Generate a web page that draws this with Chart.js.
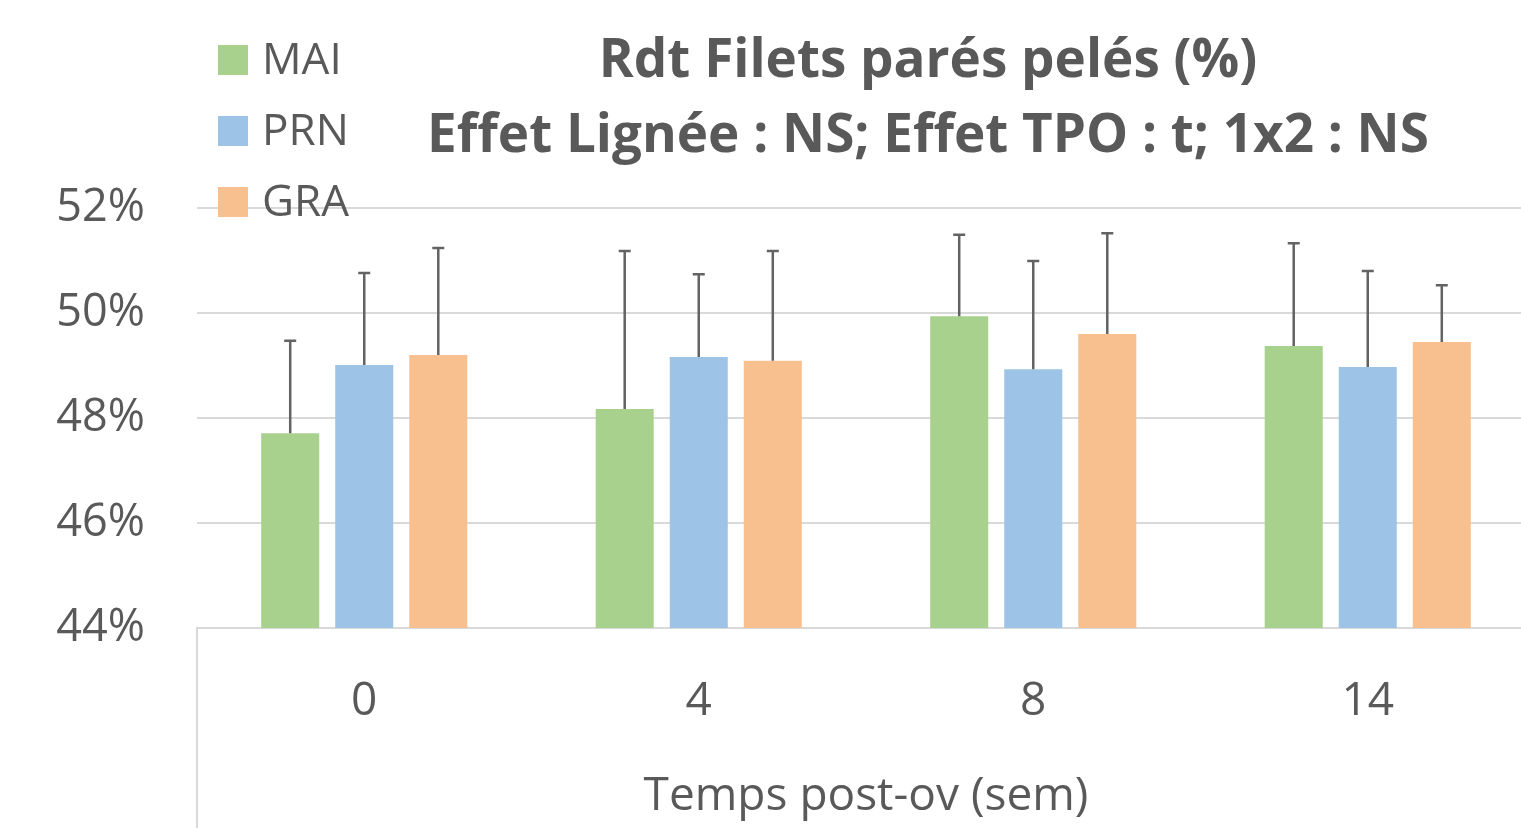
<!DOCTYPE html>
<html>
<head>
<meta charset="utf-8">
<script src="https://cdn.jsdelivr.net/npm/chart.js@4"></script>
<style>
  html, body { margin: 0; padding: 0; overflow: hidden; background: #fff; }
</style>
</head>
<body>
<canvas id="myChart" width="1560" height="828"></canvas>
<script>
const categories = ['0', '4', '8', '14'];
const seriesNames = ['MAI', 'PRN', 'GRA'];
const maiValues = [47.71, 48.17, 49.94, 49.37];
const prnValues = [49.01, 49.16, 48.93, 48.97];
const graValues = [49.20, 49.09, 49.60, 49.45];
const maiErrors = [1.76, 3.01, 1.55, 1.96];
const prnErrors = [1.75, 1.58, 2.06, 1.83];
const graErrors = [2.04, 2.09, 1.92, 1.08];
const titleLines = ['Rdt Filets parés pelés (%)', 'Effet Lignée : NS; Effet TPO : t; 1x2 : NS'];
const xTitle = 'Temps post-ov (sem)';

const textColor = '#595959';
const gridColor = '#d9d9d9';
const colors = ['#a9d18e', '#9dc3e6', '#f8c08f'];

// up-only error bars, Excel style
const errorBars = {
    id: 'errorBars',
    afterDatasetsDraw(chart) {
        const ctx = chart.ctx;
        const y = chart.scales.y;
        ctx.save();
        ctx.strokeStyle = '#636363';
        ctx.lineWidth = 2.5;
        chart.data.datasets.forEach((ds, i) => {
            chart.getDatasetMeta(i).data.forEach((bar, j) => {
                const top = y.getPixelForValue(ds.data[j] + ds.errors[j]);
                ctx.beginPath();
                ctx.moveTo(bar.x, bar.y);
                ctx.lineTo(bar.x, top);
                ctx.moveTo(bar.x - 6, top);
                ctx.lineTo(bar.x + 6, top);
                ctx.stroke();
            });
        });
        ctx.restore();
    }
};

// title + legend sit over the plot like in the Excel chart
const overlay = {
    id: 'overlay',
    afterDraw(chart) {
        const ctx = chart.ctx;
        const area = chart.chartArea;
        ctx.save();
        // left edge of the category axis area
        ctx.strokeStyle = gridColor;
        ctx.lineWidth = 2;
        ctx.beginPath();
        ctx.moveTo(area.left, area.bottom);
        ctx.lineTo(area.left, chart.height);
        ctx.stroke();

        ctx.fillStyle = textColor;
        ctx.textAlign = 'center';
        ctx.textBaseline = 'middle';
        ctx.font = 'bold 53px "Open Sans"';
        ctx.fillText(titleLines[0], 928, 62);
        ctx.fillText(titleLines[1], 928, 137);

        ctx.textAlign = 'left';
        ctx.font = '44px "Open Sans"';
        chart.data.datasets.forEach((ds, i) => {
            const cy = 60 + i * 71;
            ctx.fillStyle = ds.backgroundColor;
            ctx.fillRect(218, cy - 15, 30, 30);
            ctx.fillStyle = textColor;
            ctx.fillText(ds.label, 262, cy + 1);
        });
        ctx.restore();
    }
};

const valueSets = [maiValues, prnValues, graValues];
const errorSets = [maiErrors, prnErrors, graErrors];

new Chart(document.getElementById('myChart'), {
    type: 'bar',
    data: {
        labels: categories,
        datasets: seriesNames.map((name, i) => ({
            label: name,
            data: valueSets[i],
            errors: errorSets[i],
            backgroundColor: colors[i],
            borderWidth: 0,
            categoryPercentage: 0.664,
            barPercentage: 0.784
        }))
    },
    options: {
        responsive: false,
        animation: false,
        layout: { padding: { top: 208, left: 0, right: 25, bottom: 0 } },
        plugins: {
            legend: { display: false },
            tooltip: { enabled: false }
        },
        scales: {
            x: {
                grid: { display: false, drawTicks: false },
                border: { display: true, color: gridColor, width: 2 },
                ticks: { color: textColor, font: { family: 'Open Sans', size: 46 }, padding: 46 },
                title: {
                    display: true,
                    text: xTitle,
                    color: textColor,
                    font: { family: 'Open Sans', size: 46, lineHeight: 1.2 },
                    padding: { top: 0, bottom: 4 }
                },
                afterFit: s => { s.height = 200; }
            },
            y: {
                min: 44,
                max: 52,
                grid: { color: gridColor, lineWidth: 2, drawTicks: false },
                border: { display: false },
                ticks: {
                    stepSize: 2,
                    color: textColor,
                    font: { family: 'Open Sans', size: 45 },
                    padding: 52,
                    callback: v => v + '%'
                },
                afterFit: s => { s.width = 197; }
            }
        }
    },
    plugins: [errorBars, overlay]
});
</script>
</body>
</html>
